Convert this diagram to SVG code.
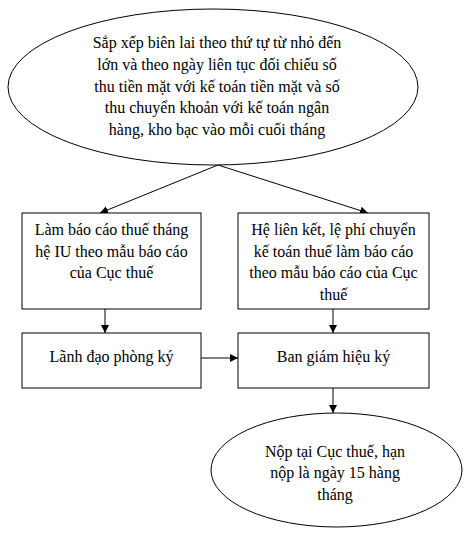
<svg xmlns="http://www.w3.org/2000/svg" width="473" height="545" viewBox="0 0 473 545">
<defs>
<style>
.n{fill:#fff;stroke:#000;stroke-width:1}
.t{font-family:"Liberation Serif","Times New Roman",serif;font-size:16px;fill:#000;text-anchor:middle}
.c{stroke:#000;stroke-width:1;fill:none;marker-end:url(#ah)}
</style>
<marker id="ah" viewBox="0 0 10 10" refX="10" refY="5" markerWidth="8" markerHeight="8" markerUnits="userSpaceOnUse" orient="auto">
<path d="M0,0 L10,5 L0,10 z" fill="#000"/>
</marker>
</defs>
<rect width="473" height="545" fill="#fff"/>
<g id="connectors">
<line class="c" x1="218" y1="165" x2="100" y2="213"/>
<line class="c" x1="218" y1="165" x2="368" y2="213"/>
<line class="c" x1="105" y1="309" x2="105" y2="333"/>
<line class="c" x1="333" y1="309" x2="333" y2="333"/>
<line class="c" x1="201" y1="358" x2="238" y2="358"/>
<line class="c" x1="333" y1="388" x2="333" y2="413"/>
</g>
<g id="start">
<ellipse class="n" cx="213" cy="87" rx="205" ry="78"/>
<text class="t" x="217" y="48">Sắp xếp biên lai theo thứ tự từ nhỏ đến</text>
<text class="t" x="217" y="70">lớn và theo ngày liên tục đối chiếu số</text>
<text class="t" x="217" y="92">thu tiền mặt với kế toán tiền mặt và số</text>
<text class="t" x="217" y="113">thu chuyển khoản với kế toán ngân</text>
<text class="t" x="217" y="135">hàng, kho bạc vào mỗi cuối tháng</text>
</g>
<g id="left-report">
<rect class="n" x="22" y="213" width="179" height="96"/>
<text class="t" x="111.5" y="235">Làm báo cáo thuế tháng</text>
<text class="t" x="111.5" y="257">hệ IU theo mẫu báo cáo</text>
<text class="t" x="111.5" y="278">của Cục thuế</text>
</g>
<g id="right-report">
<rect class="n" x="238" y="213" width="191" height="96"/>
<text class="t" x="333.5" y="235">Hệ liên kết, lệ phí chuyển</text>
<text class="t" x="333.5" y="257">kế toán thuế làm báo cáo</text>
<text class="t" x="333.5" y="278">theo mẫu báo cáo của Cục</text>
<text class="t" x="333.5" y="300">thuế</text>
</g>
<g id="dept-sign">
<rect class="n" x="22" y="333" width="179" height="55"/>
<text class="t" x="111.5" y="362">Lãnh đạo phòng ký</text>
</g>
<g id="board-sign">
<rect class="n" x="238" y="333" width="191" height="55"/>
<text class="t" x="333.5" y="362">Ban giám hiệu ký</text>
</g>
<g id="submit">
<ellipse class="n" cx="336.5" cy="470" rx="125.5" ry="57"/>
<text class="t" x="335" y="457">Nộp tại Cục thuế, hạn</text>
<text class="t" x="335" y="478">nộp là ngày 15 hàng</text>
<text class="t" x="335" y="500">tháng</text>
</g>
</svg>
